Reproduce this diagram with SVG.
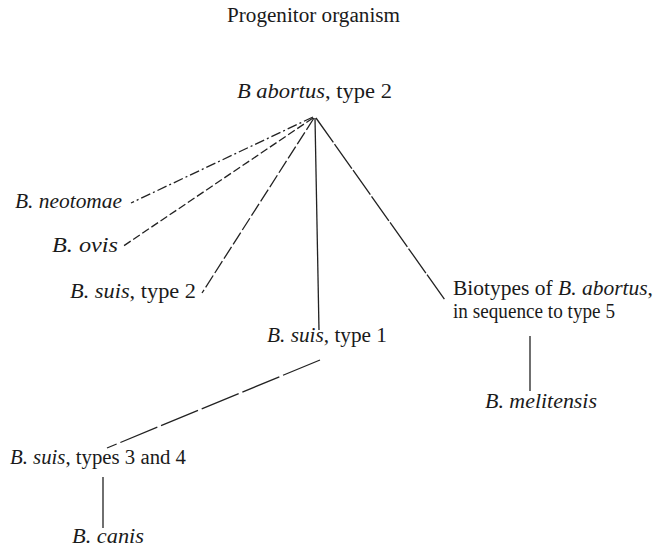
<svg xmlns="http://www.w3.org/2000/svg" width="657" height="555" viewBox="0 0 657 555">
<style>
text{font-family:"Liberation Serif","Times New Roman",serif;font-size:20px;fill:#1a1a1a}
.i{font-style:italic}
.c{fill:none;stroke:#222;stroke-width:1.3}
</style>
<rect width="657" height="555" fill="#fff"/>
<g id="connectors">
<line class="c" x1="313" y1="117" x2="131" y2="203" stroke-dasharray="10 3 2 3"/>
<line class="c" x1="313" y1="118" x2="122" y2="247" stroke-dasharray="8 3"/>
<line class="c" x1="314" y1="118" x2="202" y2="293" stroke-dasharray="14 3"/>
<line class="c" x1="315" y1="118" x2="319" y2="330"/>
<line class="c" x1="316" y1="118" x2="445" y2="300" stroke-dasharray="30 2"/>
<line class="c" x1="530" y1="336" x2="530" y2="391"/>
<line class="c" x1="320" y1="360" x2="107" y2="448" stroke-dasharray="40 4"/>
<line class="c" x1="103" y1="477" x2="103" y2="528"/>
</g>
<g id="title"><text x="227" y="22" textLength="173" lengthAdjust="spacingAndGlyphs">Progenitor organism</text></g>
<g id="abortus2"><text x="237" y="98" textLength="155" lengthAdjust="spacingAndGlyphs"><tspan class="i">B abortus</tspan>, type 2</text></g>
<g id="neotomae"><text x="15" y="208" textLength="107" lengthAdjust="spacingAndGlyphs" class="i">B. neotomae</text></g>
<g id="ovis"><text x="52" y="252" textLength="66" lengthAdjust="spacingAndGlyphs" class="i">B. ovis</text></g>
<g id="suis2"><text x="70" y="298" textLength="126" lengthAdjust="spacingAndGlyphs"><tspan class="i">B. suis</tspan>, type 2</text></g>
<g id="suis1"><text x="267" y="342" textLength="120" lengthAdjust="spacingAndGlyphs"><tspan class="i">B. suis</tspan>, type 1</text></g>
<g id="biotypes"><text x="453" y="295" textLength="200" lengthAdjust="spacingAndGlyphs">Biotypes of <tspan class="i">B. abortus</tspan>,</text><text x="453" y="318" textLength="162" lengthAdjust="spacingAndGlyphs">in sequence to type 5</text></g>
<g id="melitensis"><text x="485" y="408" textLength="112" lengthAdjust="spacingAndGlyphs" class="i">B. melitensis</text></g>
<g id="suis34"><text x="10" y="464" textLength="176" lengthAdjust="spacingAndGlyphs"><tspan class="i">B. suis</tspan>, types 3 and 4</text></g>
<g id="canis"><text x="72" y="543" textLength="72" lengthAdjust="spacingAndGlyphs" class="i">B. canis</text></g>
</svg>
